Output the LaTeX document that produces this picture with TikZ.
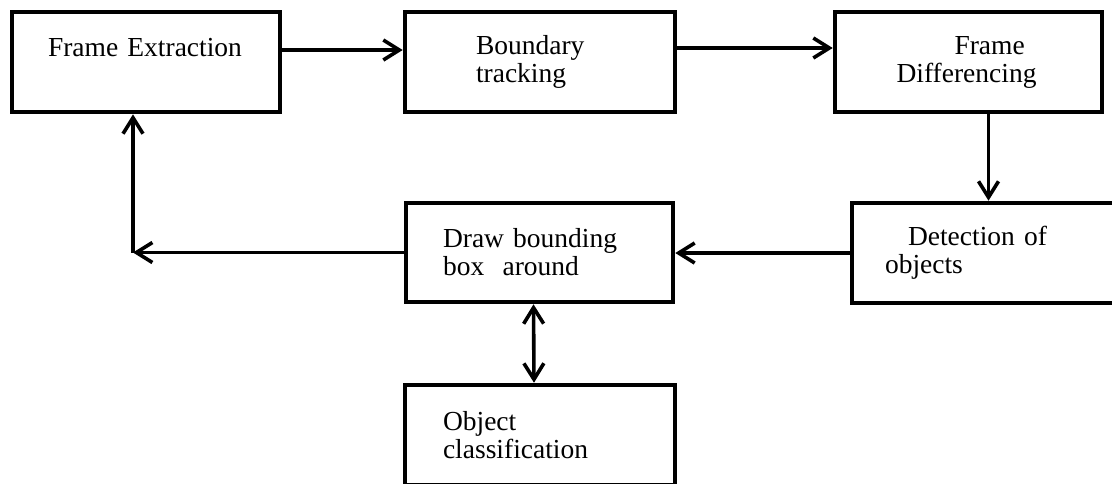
\documentclass[tikz,border=0pt]{standalone}
\usepackage{fontspec}
\setmainfont{Liberation Serif}
\usepackage{tikz}
\usetikzlibrary{arrows.meta, positioning}
\tikzset{
    stage/.style={rectangle, draw=black, line width=2.3pt, fill=white, minimum height=50pt, inner sep=0pt, align=left, font=\fontsize{13.75}{14}\selectfont},
    arrow/.style={-{Straight Barb[length=8pt, width=10pt]}, line width=1.8pt},
    biarrow/.style={{Straight Barb[length=8pt, width=10pt]}-{Straight Barb[length=8pt, width=10pt]}, line width=1.8pt}
}

\begin{document}
\begin{tikzpicture}[x=0.5pt, y=-0.5pt]
    \useasboundingbox (0, 0) rectangle (1112, 483);

    % Stages
    \node[stage, minimum width=134pt, text width=98pt, text height=10pt, text depth=16pt] (fe) at (146, 62) {Frame Extraction};
    \node[stage, minimum width=135pt, text width=64pt] (bt) at (540, 62) {Boundary\\tracking};
    \node[stage, minimum width=133.5pt, text width=72pt] (fd) at (968.5, 62) {\hspace*{29pt}Frame\\Differencing};

    \node[stage, minimum width=136.5pt, text width=103.5pt] (dt) at (988.5, 253) {\hspace*{11.5pt}Detection of\\objects};
    \node[stage, minimum width=133.5pt, minimum height=49.5pt, text width=96.5pt] (bb) at (539.5, 252.5) {Draw bounding\\box\ \ around};

    \node[stage, minimum width=135pt, text width=97pt] (oc) at (540, 435) {Object\\classification};

    % Flow
    \coordinate (turn) at (133, 252.5);
    \draw[arrow] ([yshift=6pt]fe.east) -- ([yshift=6pt]fe.east -| bt.west);
    \draw[arrow] ([yshift=7pt]bt.east) -- ([yshift=7pt]bt.east -| fd.west);
    \draw[arrow] (dt.north |- fd.south) -- (dt.north);
    \draw[arrow] (dt.west) -- (dt.west -| bb.east);
    \draw[arrow] (bb.west) -- (turn);
    \draw[arrow] (turn) -- (turn |- fe.south);
    \draw[biarrow] ([xshift=-3pt]bb.south) -- ([xshift=-3pt]oc.north);
\end{tikzpicture}
\end{document}
